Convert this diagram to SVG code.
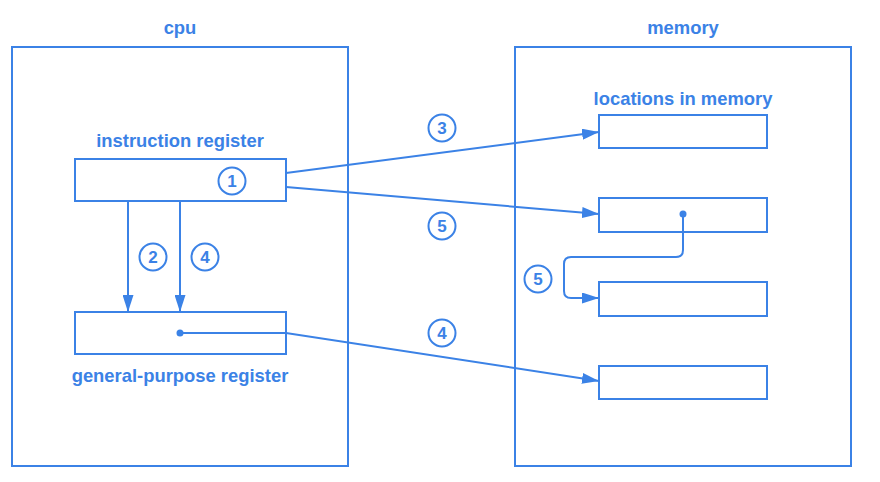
<svg xmlns="http://www.w3.org/2000/svg" width="880" height="482" viewBox="0 0 880 482">
<defs>
<marker id="arr" viewBox="0 0 17 11" refX="17" refY="5.5" markerWidth="17" markerHeight="11" markerUnits="userSpaceOnUse" orient="auto">
<path d="M0,0 L17,5.5 L0,11 z" fill="#3b82e6"/>
</marker>
</defs>
<style>
.box{fill:none;stroke:#3b82e6;stroke-width:2}
.ln{fill:none;stroke:#3b82e6;stroke-width:2}
.lbl{font-family:"Liberation Sans",Arial,sans-serif;font-weight:bold;font-size:18.4px;fill:#3b82e6;text-anchor:middle}
.num{font-family:"Liberation Sans",Arial,sans-serif;font-weight:bold;font-size:17px;fill:#3b82e6;text-anchor:middle}
.circ{fill:#fff;stroke:#3b82e6;stroke-width:2}
.dot{fill:#3b82e6}
</style>
<rect width="880" height="482" fill="#fff"/>
<g id="cpu">
<rect class="box" x="12" y="47" width="336" height="419"/>
<text class="lbl" x="180" y="34">cpu</text>
</g>
<g id="memory">
<rect class="box" x="515" y="47" width="336" height="419"/>
<text class="lbl" x="683" y="34">memory</text>
<text class="lbl" x="683" y="105">locations in memory</text>
</g>
<g id="instruction-register">
<text class="lbl" x="180" y="147">instruction register</text>
<rect class="box" x="75" y="159" width="211" height="42"/>
</g>
<g id="general-purpose-register">
<rect class="box" x="75" y="312" width="211" height="42"/>
<text class="lbl" x="180" y="382">general-purpose register</text>
</g>
<g id="loc1"><rect class="box" x="599" y="115" width="168" height="33"/></g>
<g id="loc2"><rect class="box" x="599" y="198" width="168" height="34"/></g>
<g id="loc3"><rect class="box" x="599" y="282" width="168" height="34"/></g>
<g id="loc4"><rect class="box" x="599" y="366" width="168" height="33"/></g>
<g id="connectors">
<line class="ln" x1="128" y1="201" x2="128" y2="312" marker-end="url(#arr)"/>
<line class="ln" x1="180" y1="201" x2="180" y2="312" marker-end="url(#arr)"/>
<line class="ln" x1="286" y1="173" x2="599" y2="132" marker-end="url(#arr)"/>
<line class="ln" x1="286" y1="187" x2="599" y2="214" marker-end="url(#arr)"/>
<path class="ln" d="M180,333 L286,333 L599,381" marker-end="url(#arr)"/>
<path class="ln" d="M683,214 L683,250 Q683,257 676,257 L571,257 Q564,257 564,264 L564,291 Q564,298 571,298 L599,298" marker-end="url(#arr)"/>
<circle class="dot" cx="180" cy="333" r="3.5"/>
<circle class="dot" cx="683" cy="214" r="3.5"/>
</g>
<g id="labels">
<circle class="circ" cx="232" cy="181" r="13.5"/><text class="num" x="232" y="187">1</text>
<circle class="circ" cx="153" cy="257" r="13.5"/><text class="num" x="153" y="263">2</text>
<circle class="circ" cx="205" cy="257" r="13.5"/><text class="num" x="205" y="263">4</text>
<circle class="circ" cx="442" cy="128" r="13.5"/><text class="num" x="442" y="134">3</text>
<circle class="circ" cx="442" cy="226" r="13.5"/><text class="num" x="442" y="232">5</text>
<circle class="circ" cx="538" cy="279" r="13.5"/><text class="num" x="538" y="285">5</text>
<circle class="circ" cx="442" cy="333" r="13.5"/><text class="num" x="442" y="339">4</text>
</g>
</svg>
